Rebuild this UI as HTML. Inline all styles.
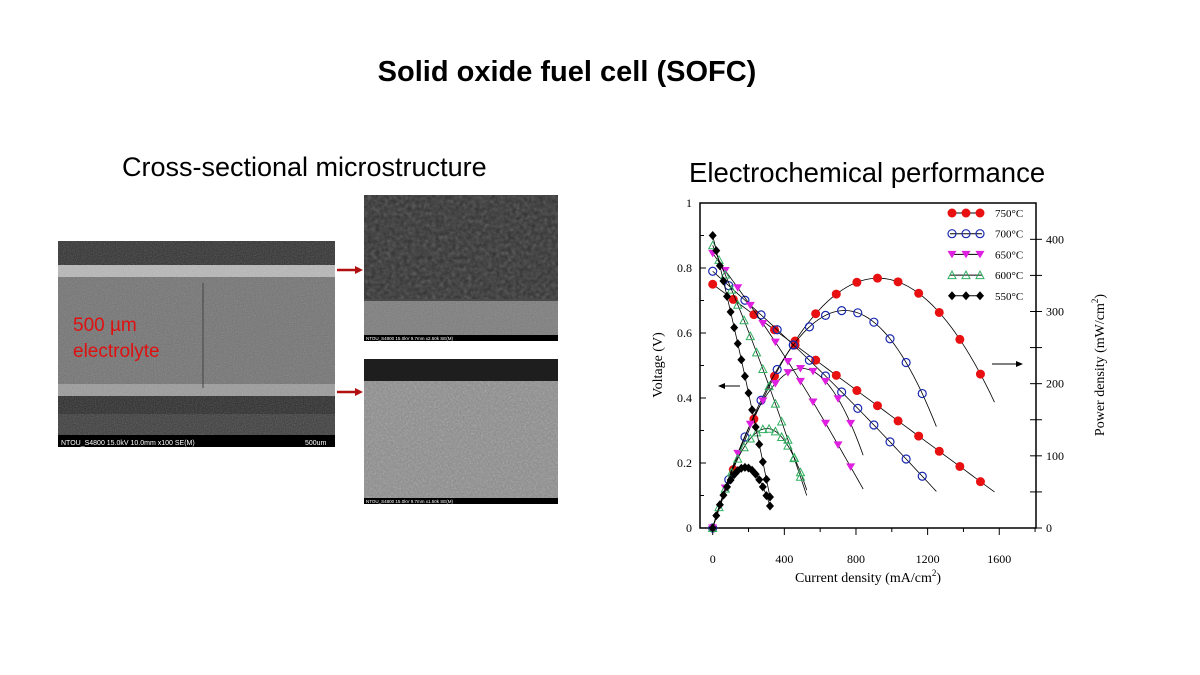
<!DOCTYPE html>
<html><head><meta charset="utf-8"><style>
body{margin:0;width:1200px;height:675px;background:#fff;position:relative;overflow:hidden;font-family:"Liberation Sans",sans-serif}
.t{position:absolute;white-space:nowrap}
</style></head><body>
<div class="t" style="left:0;width:1134px;text-align:center;top:56px;font-size:29px;font-weight:bold">Solid oxide fuel cell (SOFC)</div>
<div class="t" style="left:122px;top:152px;font-size:27px">Cross-sectional microstructure</div>
<div class="t" style="left:689px;top:157px;font-size:27.5px">Electrochemical performance</div>

<svg width="1200" height="675" style="position:absolute;left:0;top:0" id="s">
<defs>
<filter id="n1" x="0" y="0" width="1" height="1"><feTurbulence type="fractalNoise" baseFrequency="0.9" numOctaves="2" seed="3"/><feColorMatrix type="saturate" values="0"/><feComponentTransfer><feFuncA type="linear" slope="0.35"/></feComponentTransfer></filter>
<filter id="n2" x="0" y="0" width="1" height="1"><feTurbulence type="fractalNoise" baseFrequency="0.25" numOctaves="3" seed="5"/><feColorMatrix type="saturate" values="0"/><feComponentTransfer><feFuncA type="linear" slope="0.6"/></feComponentTransfer></filter>
<filter id="n3" x="0" y="0" width="1" height="1"><feTurbulence type="fractalNoise" baseFrequency="0.6" numOctaves="2" seed="8"/><feColorMatrix type="saturate" values="0"/><feComponentTransfer><feFuncA type="linear" slope="0.5"/></feComponentTransfer></filter>
</defs>
<rect x="58" y="241" width="277" height="206" fill="#6c6c6c"/>
<rect x="58" y="241" width="277" height="24" fill="#2c2c2c"/>
<rect x="58" y="265" width="277" height="12" fill="#b8b8b8"/>
<rect x="58" y="277" width="277" height="111" fill="#717171"/>
<rect x="58" y="384" width="277" height="12" fill="#9a9a9a"/>
<rect x="58" y="396" width="277" height="18" fill="#262626"/>
<rect x="58" y="414" width="277" height="21" fill="#383838"/>
<rect x="58" y="241" width="277" height="194" filter="url(#n1)"/>
<rect x="58" y="435" width="277" height="12" fill="#000"/>
<line x1="203" y1="283" x2="203" y2="388" stroke="#444" stroke-width="1"/>
<text x="61" y="445" font-size="7" fill="#fff">NTOU_S4800 15.0kV 10.0mm x100 SE(M)</text>
<text x="305" y="445" font-size="7" fill="#fff">500um</text>
<text x="73" y="331" font-size="19" fill="#e01010">500 µm</text>
<text x="73" y="357" font-size="19" fill="#e01010">electrolyte</text>
<line x1="337" y1="270" x2="356" y2="270" stroke="#b01010" stroke-width="2.5"/><polygon points="355,266 363,270 355,274" fill="#b01010"/>
<line x1="337" y1="392" x2="356" y2="392" stroke="#b01010" stroke-width="2.5"/><polygon points="355,388 363,392 355,396" fill="#b01010"/>
<rect x="364" y="195" width="194" height="146" fill="#4a4a4a"/>
<rect x="364" y="195" width="194" height="104" filter="url(#n2)"/>
<rect x="364" y="195" width="194" height="104" fill="#000" opacity="0.35"/>
<rect x="364" y="301" width="194" height="34" fill="#7a7a7a"/>
<rect x="364" y="301" width="194" height="34" filter="url(#n1)"/>
<rect x="364" y="335" width="194" height="6" fill="#000"/>
<text x="366" y="340" font-size="4.5" fill="#fff">NTOU_S4800 15.0kV 9.7mm x2.50k SE(M)</text>
<rect x="364" y="359" width="194" height="145" fill="#8a8a8a"/>
<rect x="364" y="359" width="194" height="22" fill="#1e1e1e"/>
<rect x="364" y="381" width="194" height="117" filter="url(#n3)"/>
<rect x="364" y="498" width="194" height="6" fill="#000"/>
<text x="366" y="503" font-size="4.5" fill="#fff">NTOU_S4800 15.0kV 9.7mm x1.50k SE(M)</text>
<g id="chart" font-family="Liberation Serif,serif"></g>
</svg>
<script>
var g=document.getElementById('chart'),h='';
var X=i=>712.7+i*0.1791, YV=v=>528-v*325, YP=p=>528-p*0.7217;
h+='<rect x="700" y="203" width="336" height="325" fill="none" stroke="#000" stroke-width="1.5"/>';
for(var k=0;k<=5;k++){var y=YV(k*0.2);h+='<line x1="700" y1="'+y+'" x2="706" y2="'+y+'" stroke="#000"/>';h+='<text x="692" y="'+(y+4)+'" font-size="12" text-anchor="end">'+(k==0?'0':k==5?'1':(k*0.2).toFixed(1))+'</text>';}
for(var k=0;k<=9;k++){var y=YV(k*0.1);if(k%2)h+='<line x1="700" y1="'+y+'" x2="704" y2="'+y+'" stroke="#000"/>';}
for(var k=0;k<=8;k++){var y=YP(k*50);if(y<203)continue;h+='<line x1="1030" y1="'+y+'" x2="1042" y2="'+y+'" stroke="#000"/>';if(k%2==0)h+='<text x="1046" y="'+(y+4)+'" font-size="12">'+k*50+'</text>';}
for(var k=0;k<=9;k++){var x=X(k*200);if(x>1036)continue;h+='<line x1="'+x+'" y1="528" x2="'+x+'" y2="'+(k%2?532:535)+'" stroke="#000"/>';if(k%2==0)h+='<text x="'+x+'" y="563" font-size="12" text-anchor="middle">'+k*200+'</text>';}
h+='<text x="868" y="582" font-size="14" text-anchor="middle">Current density (mA/cm<tspan font-size="9" dy="-6">2</tspan><tspan dy="6">)</tspan></text>';
h+='<text transform="translate(662,365) rotate(-90)" font-size="14" text-anchor="middle">Voltage (V)</text>';
h+='<text transform="translate(1104,365) rotate(-90)" font-size="14" text-anchor="middle">Power density (mW/cm<tspan font-size="9" dy="-6">2</tspan><tspan dy="6">)</tspan></text>';
h+='<line x1="720" y1="386" x2="740" y2="386" stroke="#000"/><polygon points="718,386 725,383 725,389"/>';
h+='<line x1="992" y1="364" x2="1016" y2="364" stroke="#000"/><polygon points="1023,364 1016,361 1016,367"/>';
function mk(t,c,x,y){
 if(t=='c')return '<circle cx="'+x+'" cy="'+y+'" r="4.5" fill="'+c+'"/>';
 if(t=='o')return '<circle cx="'+x+'" cy="'+y+'" r="4" fill="none" stroke="'+c+'" stroke-width="1.2"/>';
 if(t=='v')return '<polygon points="'+(x-4.5)+','+(y-3.5)+' '+(x+4.5)+','+(y-3.5)+' '+x+','+(y+4)+'" fill="'+c+'"/>';
 if(t=='a')return '<polygon points="'+(x-4)+','+(y+3.5)+' '+(x+4)+','+(y+3.5)+' '+x+','+(y-4)+'" fill="none" stroke="'+c+'"/>';
 return '<polygon points="'+x+','+(y-4.5)+' '+(x+4)+','+y+' '+x+','+(y+4.5)+' '+(x-4)+','+y+'" fill="'+c+'"/>';
}
var S=[
 ['c','#e81010',0.75,0.10,1600,1600,115,0],
 ['o','#1a28b0',0.79,0.10,1270,1230,90,0.02],
 ['v','#e020e0',0.845,0.12,840,820,70,0.03],
 ['a','#30b060',0.87,0.10,525,520,35,0.03],
 ['d','#000',0.90,0.09,322,320,20,0.02]];
S.forEach(function(s){
 var V=i=>s[2]-(s[2]-s[3])*i/s[4]+s[7]*Math.sin(Math.PI*i/s[4]);
 var pv='',pp='';
 for(var i=0;i<=s[4];i+=s[4]/60){pv+=X(i)+','+YV(V(i))+' ';pp+=X(i)+','+YP(V(i)*i)+' ';}
 h+='<polyline points="'+pv+'" fill="none" stroke="#000" stroke-width="0.8"/><polyline points="'+pp+'" fill="none" stroke="#000" stroke-width="0.8"/>';
 for(var i=0;i<=s[5]+1;i+=s[6]){h+=mk(s[0],s[1],X(i),YV(V(i)))+mk(s[0],s[1],X(i),YP(V(i)*i));}
});
var L=[['c','#e81010','750°C'],['o','#1a28b0','700°C'],['v','#e020e0','650°C'],['a','#30b060','600°C'],['d','#000','550°C']];
L.forEach(function(l,k){var y=213+k*20.7;h+='<line x1="950" y1="'+y+'" x2="982" y2="'+y+'" stroke="#000"/>';[952,966,980].forEach(x=>h+=mk(l[0],l[1],x,y));h+='<text x="995" y="'+(y+4)+'" font-size="11">'+l[2]+'</text>';});
g.innerHTML=h;
</script>
</body></html>
